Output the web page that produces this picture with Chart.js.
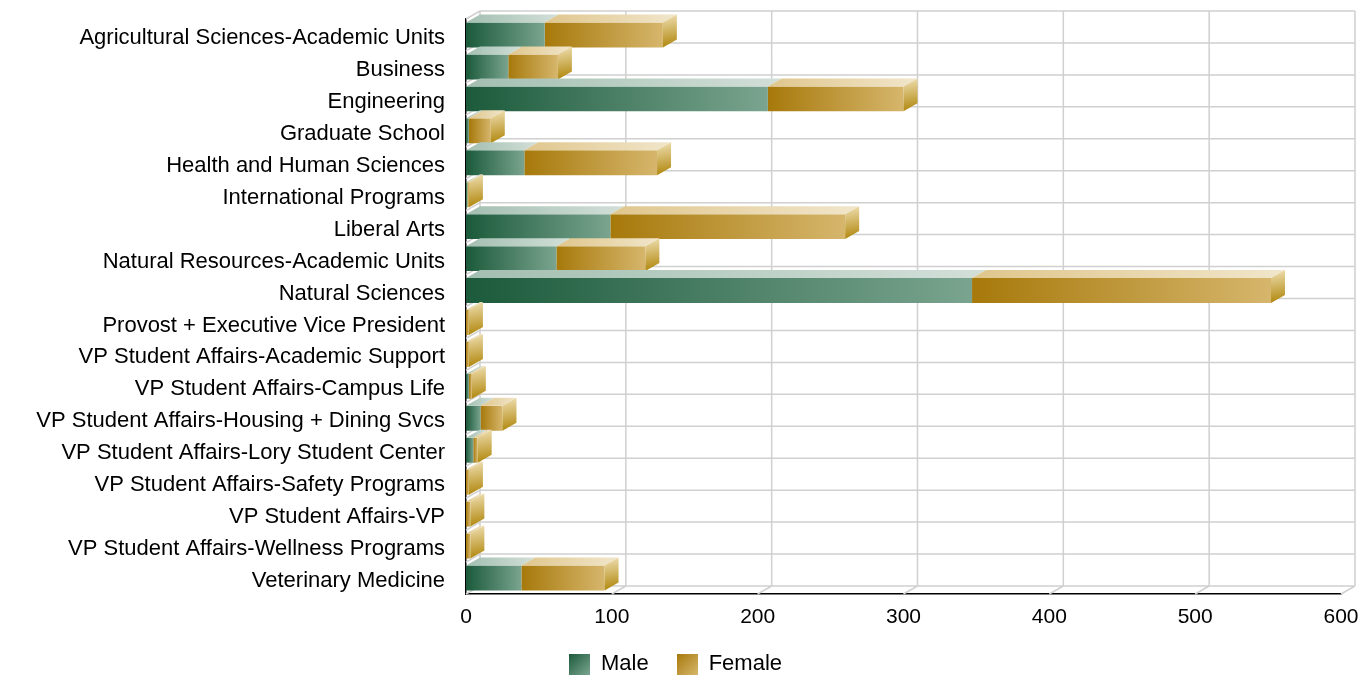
<!DOCTYPE html>
<html>
<head>
<meta charset="utf-8">
<script src="https://cdn.jsdelivr.net/npm/chart.js@4.4.1/dist/chart.umd.min.js"></script>
<style>
  html, body { margin: 0; padding: 0; background: #fff; }
  #wrap { width: 1371px; height: 675px; }
</style>
</head>
<body>
<div id="wrap"><canvas id="chart" width="1371" height="675"></canvas></div>
<script>
const categories = [
  "Agricultural Sciences-Academic Units",
  "Business",
  "Engineering",
  "Graduate School",
  "Health and Human Sciences",
  "International Programs",
  "Liberal Arts",
  "Natural Resources-Academic Units",
  "Natural Sciences",
  "Provost + Executive Vice President",
  "VP Student Affairs-Academic Support",
  "VP Student Affairs-Campus Life",
  "VP Student Affairs-Housing + Dining Svcs",
  "VP Student Affairs-Lory Student Center",
  "VP Student Affairs-Safety Programs",
  "VP Student Affairs-VP",
  "VP Student Affairs-Wellness Programs",
  "Veterinary Medicine"
];
const maleValues   = [54, 29, 207, 2, 40, 1, 99, 62, 347, 0, 0, 2, 10, 5, 0, 0, 0, 38];
const femaleValues = [81, 34, 93, 15, 91, 1, 161, 61, 205, 2, 2, 2, 15, 3, 2, 3, 3, 57];
const xTicks = [0, 100, 200, 300, 400, 500, 600];
const seriesNames = ["Male", "Female"];

// colours for the faux 3D faces
const MALE_FRONT = ["#1b5a3b", "#7aa48f"];
const FEMALE_FRONT = ["#a7790b", "#d6b66c"];
const MALE_TOP = ["#a3bfb1", "#d2dfd8"];
const FEMALE_TOP = ["#dfc68c", "#f1e6cb"];
const SIDE = ["#f0e0b4", "#b0870c"];
const GRID = "#d0d0d0";
const DX = 14, DY = 8;
const FAMILY = "'Liberation Sans', Arial, sans-serif";
const LABEL_FONT = { family: FAMILY, size: 22 };
const TICK_FONT = { family: FAMILY, size: 21 };

function hGradient(ctx, x0, x1, stops) {
  if (x1 - x0 < 1) return stops[0];
  const g = ctx.createLinearGradient(x0, 0, x1, 0);
  g.addColorStop(0, stops[0]);
  g.addColorStop(1, stops[1]);
  return g;
}

function frontColor(stops, startOf, endOf) {
  return (c) => {
    const xs = c.chart.scales.x;
    if (c.type !== "data" || !xs) return stops[0];
    const i = c.dataIndex;
    return hGradient(c.chart.ctx, xs.getPixelForValue(startOf(i)), xs.getPixelForValue(endOf(i)), stops);
  };
}

// legend swatch as a small canvas
function swatch(stops) {
  const cv = document.createElement("canvas");
  cv.width = 21; cv.height = 21;
  const c = cv.getContext("2d");
  const g = c.createLinearGradient(0, 0, 21, 21);
  g.addColorStop(0, stops[0]);
  g.addColorStop(1, stops[1]);
  c.fillStyle = g;
  c.fillRect(0, 0, 21, 21);
  return cv;
}
const swatches = [swatch(MALE_FRONT), swatch(FEMALE_FRONT)];

const wallPlugin = {
  id: "wall3d",
  beforeDatasetsDraw(chart) {
    const { ctx, chartArea } = chart;
    const { left, right, top, bottom } = chartArea;
    const xs = chart.scales.x;
    ctx.save();
    ctx.strokeStyle = GRID;
    ctx.lineWidth = 1.5;
    ctx.beginPath();
    xTicks.forEach(v => {
      const x = xs.getPixelForValue(v);
      ctx.moveTo(x + DX, top - DY);
      ctx.lineTo(x + DX, bottom - DY);
      ctx.moveTo(x, bottom);
      ctx.lineTo(x + DX, bottom - DY);
    });
    const n = categories.length;
    for (let i = 0; i <= n; i++) {
      const y = top + i * (bottom - top) / n;
      ctx.moveTo(left + DX, y - DY);
      ctx.lineTo(right + DX, y - DY);
      ctx.moveTo(left, y);
      ctx.lineTo(left + DX, y - DY);
    }
    ctx.stroke();
    ctx.restore();
  },
  afterDatasetsDraw(chart) {
    const { ctx } = chart;
    const metas = [chart.getDatasetMeta(0), chart.getDatasetMeta(1)];
    const tops = [MALE_TOP, FEMALE_TOP];
    ctx.save();
    for (let i = 0; i < categories.length; i++) {
      let last = null;
      metas.forEach((meta, d) => {
        const el = meta.data[i];
        if (!el) return;
        const p = el.getProps(["x", "y", "base", "height"], true);
        const x0 = Math.min(p.base, p.x), x1 = Math.max(p.base, p.x);
        const yT = p.y - p.height / 2;
        ctx.beginPath();
        ctx.moveTo(x0, yT);
        ctx.lineTo(x1, yT);
        ctx.lineTo(x1 + DX, yT - DY);
        ctx.lineTo(x0 + DX, yT - DY);
        ctx.closePath();
        ctx.fillStyle = hGradient(ctx, x0, x1 + DX, tops[d]);
        ctx.fill();
        last = p;
      });
      if (last) {
        const x = Math.max(last.base, last.x);
        const yT = last.y - last.height / 2, yB = last.y + last.height / 2;
        const g = ctx.createLinearGradient(x, yT - DY, x + DX * 0.4, yB);
        g.addColorStop(0, SIDE[0]);
        g.addColorStop(1, SIDE[1]);
        ctx.beginPath();
        ctx.moveTo(x, yT);
        ctx.lineTo(x + DX, yT - DY);
        ctx.lineTo(x + DX, yB - DY);
        ctx.lineTo(x, yB);
        ctx.closePath();
        ctx.fillStyle = g;
        ctx.fill();
      }
    }
    ctx.restore();
  }
};

new Chart(document.getElementById("chart"), {
  type: "bar",
  data: {
    labels: categories,
    datasets: [
      {
        label: seriesNames[0],
        data: maleValues,
        backgroundColor: frontColor(MALE_FRONT, () => 0, i => maleValues[i]),
        borderWidth: 0
      },
      {
        label: seriesNames[1],
        data: femaleValues,
        backgroundColor: frontColor(FEMALE_FRONT, i => maleValues[i], i => maleValues[i] + femaleValues[i]),
        borderWidth: 0
      }
    ]
  },
  options: {
    indexAxis: "y",
    responsive: false,
    animation: false,
    barPercentage: 0.78,
    categoryPercentage: 1,
    layout: { padding: { left: 10, top: 19, right: 30, bottom: -10 } },
    scales: {
      x: {
        stacked: true,
        min: 0,
        max: 600,
        grid: { display: false, drawTicks: false },
        border: { display: true, color: "#000", width: 1.5 },
        ticks: { stepSize: 100, color: "#000", font: TICK_FONT, padding: 11 },
        afterFit(scale) {
          const lh = scale.chart.legend ? scale.chart.legend.height : 60;
          scale.height = 91 - lh;
        }
      },
      y: {
        stacked: true,
        grid: { display: false, drawTicks: true, tickLength: 19 },
        border: { display: true, color: "#000", width: 1.5 },
        ticks: { color: "#000", font: LABEL_FONT, padding: 2, labelOffset: 3, autoSkip: false },
        afterFit(scale) { scale.width = 456; }
      }
    },
    plugins: {
      tooltip: { enabled: false },
      legend: {
        position: "bottom",
        labels: {
          color: "#000",
          font: LABEL_FONT,
          usePointStyle: true,
          boxWidth: 21,
          boxHeight: 21,
          padding: 28,
          generateLabels(chart) {
            return chart.data.datasets.map((ds, i) => ({
              text: ds.label,
              pointStyle: swatches[i],
              fillStyle: i ? FEMALE_FRONT[0] : MALE_FRONT[0],
              strokeStyle: "transparent",
              lineWidth: 0,
              hidden: false,
              datasetIndex: i,
              fontColor: "#000"
            }));
          }
        }
      }
    }
  },
  plugins: [wallPlugin]
});
</script>
</body>
</html>
